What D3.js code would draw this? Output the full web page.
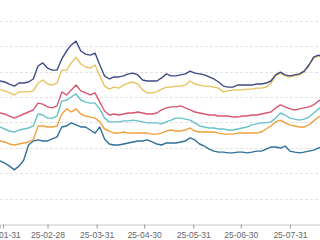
<!DOCTYPE html>
<html>
<head>
<meta charset="utf-8">
<script src="https://cdn.jsdelivr.net/npm/d3@7"></script>
<style>
    html, body { margin: 0; padding: 0; background: #fff; }
    svg { display: block; }
</style>
</head>
<body>
<script>
// dates: every 3 days from 25-01-29
var startDate = "2025-01-29",
    endDate = "2025-08-19",
    stepDays = 3,
    pointCount = 69;

var tickLabels = ["25-01-31", "25-02-28", "25-03-31", "25-04-30", "25-05-31", "25-06-30", "25-07-31"];
var gridValues = [1.2, 1.3, 1.4, 1.5, 1.6, 1.7, 1.8, 1.9, 2.0];

var navy = [1.763, 1.759, 1.751, 1.743, 1.755, 1.755, 1.759, 1.771, 1.822, 1.834, 1.814, 1.806, 1.806, 1.850, 1.881, 1.905, 1.920, 1.881, 1.869, 1.865, 1.873, 1.826, 1.783, 1.771, 1.779, 1.779, 1.783, 1.791, 1.794, 1.787, 1.767, 1.763, 1.763, 1.763, 1.775, 1.791, 1.783, 1.783, 1.787, 1.791, 1.802, 1.794, 1.791, 1.787, 1.779, 1.771, 1.759, 1.743, 1.739, 1.739, 1.747, 1.747, 1.747, 1.747, 1.751, 1.751, 1.755, 1.763, 1.787, 1.798, 1.787, 1.783, 1.787, 1.791, 1.802, 1.826, 1.857, 1.865, 1.861];
var gold = [1.728, 1.724, 1.716, 1.708, 1.720, 1.720, 1.720, 1.724, 1.755, 1.767, 1.751, 1.747, 1.755, 1.806, 1.806, 1.834, 1.857, 1.830, 1.818, 1.814, 1.826, 1.783, 1.743, 1.731, 1.739, 1.735, 1.747, 1.755, 1.759, 1.751, 1.728, 1.716, 1.716, 1.720, 1.731, 1.739, 1.739, 1.743, 1.743, 1.747, 1.763, 1.751, 1.747, 1.743, 1.743, 1.739, 1.735, 1.720, 1.724, 1.728, 1.728, 1.728, 1.731, 1.731, 1.735, 1.735, 1.739, 1.755, 1.783, 1.794, 1.783, 1.779, 1.783, 1.787, 1.798, 1.822, 1.854, 1.861, 1.857];
var red = [1.637, 1.633, 1.625, 1.617, 1.625, 1.633, 1.641, 1.649, 1.676, 1.672, 1.661, 1.657, 1.665, 1.720, 1.708, 1.728, 1.747, 1.724, 1.716, 1.708, 1.716, 1.680, 1.645, 1.629, 1.633, 1.629, 1.633, 1.637, 1.637, 1.641, 1.637, 1.633, 1.633, 1.637, 1.649, 1.657, 1.661, 1.661, 1.665, 1.657, 1.649, 1.641, 1.637, 1.633, 1.629, 1.629, 1.625, 1.625, 1.625, 1.621, 1.621, 1.625, 1.625, 1.629, 1.629, 1.633, 1.637, 1.641, 1.657, 1.669, 1.661, 1.653, 1.649, 1.653, 1.657, 1.661, 1.669, 1.684, 1.696];
var cyan = [1.582, 1.574, 1.566, 1.562, 1.570, 1.574, 1.578, 1.586, 1.633, 1.629, 1.617, 1.617, 1.625, 1.684, 1.688, 1.700, 1.712, 1.688, 1.680, 1.676, 1.676, 1.653, 1.617, 1.602, 1.602, 1.602, 1.606, 1.606, 1.609, 1.606, 1.602, 1.598, 1.598, 1.598, 1.594, 1.602, 1.609, 1.617, 1.617, 1.613, 1.609, 1.598, 1.586, 1.582, 1.578, 1.578, 1.574, 1.574, 1.570, 1.570, 1.574, 1.578, 1.582, 1.590, 1.594, 1.598, 1.598, 1.602, 1.617, 1.637, 1.629, 1.617, 1.613, 1.609, 1.613, 1.621, 1.637, 1.653, 1.665];
var orange = [1.527, 1.523, 1.515, 1.511, 1.515, 1.519, 1.523, 1.531, 1.586, 1.586, 1.582, 1.582, 1.586, 1.633, 1.653, 1.641, 1.653, 1.633, 1.625, 1.621, 1.617, 1.602, 1.574, 1.566, 1.558, 1.558, 1.562, 1.558, 1.558, 1.558, 1.558, 1.558, 1.554, 1.554, 1.558, 1.566, 1.570, 1.566, 1.566, 1.570, 1.578, 1.566, 1.562, 1.562, 1.562, 1.562, 1.558, 1.554, 1.554, 1.554, 1.558, 1.558, 1.558, 1.558, 1.558, 1.562, 1.574, 1.586, 1.602, 1.609, 1.598, 1.590, 1.586, 1.582, 1.582, 1.590, 1.606, 1.621, 1.629];
var steel = [1.448, 1.440, 1.428, 1.413, 1.428, 1.452, 1.511, 1.527, 1.531, 1.527, 1.527, 1.535, 1.543, 1.582, 1.586, 1.598, 1.590, 1.582, 1.582, 1.570, 1.558, 1.582, 1.535, 1.515, 1.511, 1.511, 1.515, 1.519, 1.523, 1.527, 1.527, 1.531, 1.523, 1.515, 1.511, 1.519, 1.519, 1.519, 1.523, 1.527, 1.539, 1.531, 1.515, 1.507, 1.495, 1.487, 1.483, 1.483, 1.480, 1.480, 1.483, 1.483, 1.480, 1.483, 1.487, 1.487, 1.495, 1.503, 1.503, 1.499, 1.507, 1.487, 1.483, 1.480, 1.483, 1.487, 1.491, 1.499, 1.503];

// bottom to top drawing order
var seriesNames = ["steel", "orange", "cyan", "red", "gold", "navy"];
var seriesValues = [steel, orange, cyan, red, gold, navy];
var seriesColors = ["#30709a", "#f0a13c", "#66c2c8", "#d9566d", "#e7c35f", "#3f4a88"];

var width = 320,
    height = 240;

var parseDay = d3.utcParse("%Y-%m-%d"),
    parseTick = d3.utcParse("%y-%m-%d");

var dates = d3.range(pointCount).map(function (i) {
    return d3.utcDay.offset(parseDay(startDate), i * stepDays);
});

var x = d3.scaleUtc()
    .domain([parseDay(startDate), parseDay(endDate)])
    .range([0, width]);

var y = d3.scaleLinear()
    .domain([1.2, 2.0])
    .range([224, 20.8]);

var svg = d3.select("body")
    .append("svg")
    .attr("width", width)
    .attr("height", height);

//网格线
svg.append("g")
    .attr("class", "grid")
    .selectAll("line")
    .data(gridValues.slice(1))
    .enter()
    .append("line")
    .attr("x1", 0)
    .attr("x2", width)
    .attr("y1", function (d) { return Math.round(y(d)) + 0.5; })
    .attr("y2", function (d) { return Math.round(y(d)) + 0.5; })
    .attr("stroke", "#e3e3e3")
    .attr("stroke-dasharray", "3,2");

//x 轴
var xAxis = d3.axisBottom(x)
    .tickValues(tickLabels.map(parseTick))
    .tickFormat(d3.utcFormat("%y-%m-%d"))
    .tickSize(4)
    .tickPadding(3);

var axisG = svg.append("g")
    .attr("transform", "translate(0," + (Math.round(y(1.2)) + 0.5) + ")")
    .call(xAxis);

axisG.select(".domain").attr("stroke", "#c8c8c8");
axisG.selectAll(".tick line").attr("stroke", "#9a9a9a");
axisG.selectAll(".tick text")
    .attr("fill", "#666")
    .style("font-family", "'Liberation Sans', Arial, sans-serif")
    .style("font-size", "8.5px");

//折线
var line = d3.line()
    .x(function (d, i) { return x(dates[i]); })
    .y(function (d) { return y(d); });

svg.append("g")
    .attr("class", "lines")
    .selectAll("path")
    .data(seriesValues)
    .enter()
    .append("path")
    .attr("class", function (d, i) { return "line " + seriesNames[i]; })
    .attr("d", line)
    .attr("fill", "none")
    .attr("stroke", function (d, i) { return seriesColors[i]; })
    .attr("stroke-width", 1.4)
    .attr("stroke-linejoin", "round");
</script>
</body>
</html>
